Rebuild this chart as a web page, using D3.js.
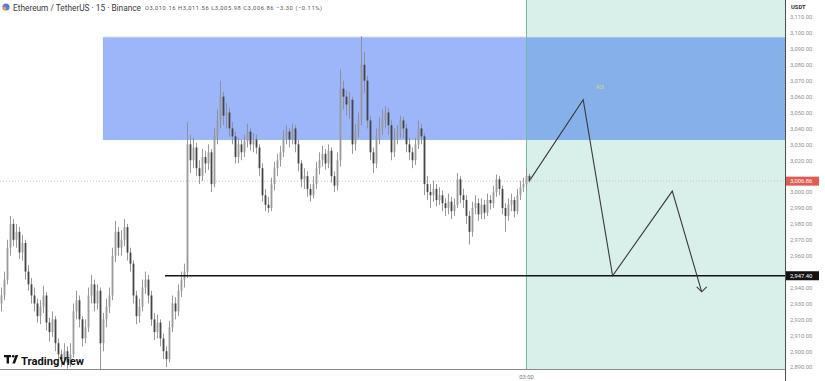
<!DOCTYPE html>
<html>
<head>
<meta charset="utf-8">
<script src="https://cdn.jsdelivr.net/npm/d3@7"></script>
<style>
  html, body { margin: 0; padding: 0; background: #fff; }
  svg { display: block; font-family: Roboto, "Noto Sans", sans-serif; }
</style>
</head>
<body>
<svg id="chart" width="825" height="381"></svg>
<script>
// ETH/USDT 15m candles (open = previous close)
var firstOpen = 2930;
var closes = [
  2935, 2945, 2965, 2980, 2970, 2975, 2962, 2968, 2950, 2942,
  2935, 2930, 2922, 2928, 2935, 2918, 2912, 2920, 2905, 2898,
  2895, 2900, 2893, 2898, 2925, 2932, 2920, 2908, 2915, 2935,
  2942, 2930, 2938, 2905, 2920, 2928, 2935, 2960, 2975, 2965,
  2970, 2978, 2962, 2955, 2935, 2922, 2928, 2940, 2945, 2935,
  2920, 2912, 2918, 2908, 2900, 2895, 2915, 2930, 2925, 2938,
  2945, 2950, 3030, 3020, 3028, 3015, 3010, 3022, 3018, 3025,
  3005, 3035, 3045, 3060, 3048, 3050, 3040, 3035, 3022, 3030,
  3025, 3032, 3038, 3030, 3033, 3028, 3015, 2998, 2992, 2990,
  3005, 3015, 3020, 3025, 3035, 3038, 3033, 3040, 3030, 3018,
  3008, 3010, 3002, 2998, 3005, 3015, 3020, 3024, 3018, 3026,
  3010, 3004, 3020, 3065, 3060, 3055, 3058, 3030, 3038, 3045,
  3080, 3070, 3045, 3025, 3018, 3035, 3040, 3045, 3050, 3042,
  3025, 3035, 3038, 3045, 3040, 3030, 3025, 3020, 3030, 3040,
  3035, 3005, 3000, 2998, 3002, 2995, 2998, 2993, 2990, 2994,
  2988, 2992, 3008, 2998, 2995, 2985, 2975, 2990, 2993, 2986,
  2992, 2987, 2995, 2993, 3000, 3008, 3002, 2990, 2985, 2992,
  2995, 2988, 2998, 3003, 3005, 3010.16, 3006.86
];
var highs = [
  2940, 2950, 2970, 2985, 2983, 2980, 2978, 2973, 2970, 2954,
  2946, 2940, 2933, 2932, 2941, 2937, 2921, 2925, 2922, 2908,
  2901, 2905, 2903, 2905, 2930, 2938, 2935, 2922, 2920, 2940,
  2948, 2945, 2942, 2940, 2924, 2933, 2940, 2965, 2982, 2978,
  2976, 2983, 2980, 2965, 2957, 2938, 2933, 2945, 2950, 2948,
  2938, 2924, 2923, 2920, 2911, 2903, 2919, 2935, 2934, 2942,
  2950, 2955, 3044, 3036, 3034, 3031, 3020, 3027, 3026, 3030,
  3027, 3040, 3052, 3070, 3063, 3056, 3053, 3044, 3038, 3034,
  3033, 3036, 3043, 3040, 3037, 3036, 3030, 3018, 3002, 2997,
  3009, 3019, 3024, 3029, 3039, 3042, 3040, 3043, 3042, 3033,
  3020, 3015, 3013, 3005, 3010, 3019, 3025, 3029, 3027, 3030,
  3028, 3013, 3025, 3077, 3070, 3064, 3063, 3060, 3043, 3050,
  3098, 3088, 3073, 3048, 3028, 3040, 3047, 3052, 3054, 3053,
  3045, 3040, 3042, 3048, 3047, 3043, 3034, 3028, 3034, 3045,
  3043, 3037, 3010, 3005, 3007, 3005, 3003, 3001, 2996, 2999,
  2997, 2996, 3012, 3010, 3002, 2998, 2988, 2994, 2998, 2996,
  2996, 2995, 2999, 2998, 3004, 3011, 3010, 3004, 2993, 2996,
  2999, 2997, 3002, 3007, 3009, 3015, 3011.56
];
var lows = [
  2925, 2932, 2942, 2960, 2966, 2965, 2958, 2957, 2945, 2938,
  2930, 2925, 2918, 2917, 2924, 2913, 2906, 2909, 2900, 2893,
  2890, 2891, 2889, 2890, 2896, 2920, 2915, 2903, 2905, 2912,
  2930, 2925, 2926, 2888, 2900, 2915, 2924, 2932, 2956, 2960,
  2960, 2966, 2957, 2950, 2930, 2917, 2918, 2925, 2936, 2930,
  2916, 2907, 2908, 2903, 2895, 2890, 2893, 2912, 2920, 2922,
  2934, 2940, 2946, 3012, 3015, 3010, 3005, 3007, 3012, 3014,
  3000, 3003, 3030, 3040, 3042, 3040, 3035, 3030, 3018, 3018,
  3020, 3022, 3028, 3026, 3025, 3024, 3010, 2994, 2988, 2987,
  2988, 3001, 3010, 3016, 3022, 3030, 3028, 3030, 3025, 3013,
  3003, 3002, 2997, 2994, 2996, 3002, 3011, 3016, 3014, 3015,
  3006, 3000, 3001, 3016, 3052, 3048, 3046, 3024, 3026, 3034,
  3042, 3062, 3040, 3020, 3012, 3015, 3030, 3036, 3040, 3036,
  3020, 3022, 3030, 3034, 3034, 3025, 3020, 3015, 3017, 3027,
  3030, 2998, 2995, 2990, 2994, 2991, 2992, 2988, 2985, 2986,
  2983, 2985, 2990, 2993, 2990, 2980, 2967, 2972, 2986, 2982,
  2983, 2983, 2985, 2989, 2990, 2997, 2998, 2986, 2975, 2982,
  2988, 2984, 2986, 2995, 3000, 3001, 3005.98
];

// price axis ticks and level tags
var priceTicks = d3.range(2890, 3111, 10);
var lastPrice = 3006.86;
var supportLevel = 2947.40;
var timeLabel = { at: 175, text: "03:00" };

// drawings (index = candle slot, p = price)
var supplyZone = { from: 33.8, top: 3097.4, bottom: 3032.7 };
var forecastZoneFrom = 175;
var supportFrom = 54.5;
var projection = [
  { i: 176.3, p: 3008 },
  { i: 193.9, p: 3058 },
  { i: 203.7, p: 2947.4 },
  { i: 223.6, p: 3000.6 },
  { i: 233.4, p: 2937.3 }
];
var zoneLabel = { i: 199.5, p: 3064.5, text: "ROI" };

var headerTitle = "Ethereum / TetherUS \u00b7 15 \u00b7 Binance";
var headerOHLC = "O3,010.16 H3,011.56 L3,005.98 C3,006.86 \u22123.30 (\u22120.11%)";

var svg = d3.select("#chart");
var plotRight = 785, plotBottom = 369;
var maxSlot = 261.17;

var x = d3.scaleLinear().domain([-0.5, maxSlot]).range([0, plotRight]);
var y = d3.scaleLinear().domain([2888.8, 3120.7]).range([plotBottom, 0]);

var candles = closes.map(function (c, i) {
  return { i: i, o: i === 0 ? firstOpen : closes[i - 1], h: highs[i], l: lows[i], c: c };
});

// zones, drawn first
var zones = svg.append("g").attr("class", "zones");
zones.append("rect")
  .attr("x", x(forecastZoneFrom)).attr("y", 0)
  .attr("width", plotRight - x(forecastZoneFrom)).attr("height", plotBottom)
  .attr("fill", "#d9efea");
zones.append("rect")
  .attr("x", x(supplyZone.from)).attr("y", y(supplyZone.top))
  .attr("width", x(forecastZoneFrom) - x(supplyZone.from))
  .attr("height", y(supplyZone.bottom) - y(supplyZone.top))
  .attr("fill", "#9db6fa");
zones.append("rect")
  .attr("x", x(forecastZoneFrom)).attr("y", y(supplyZone.top))
  .attr("width", plotRight - x(forecastZoneFrom))
  .attr("height", y(supplyZone.bottom) - y(supplyZone.top))
  .attr("fill", "#86b0ea");
zones.append("line")
  .attr("x1", x(supplyZone.from)).attr("x2", plotRight)
  .attr("y1", y(supplyZone.top)).attr("y2", y(supplyZone.top))
  .attr("stroke", "#c9d6fb").attr("stroke-width", 0.8);
zones.append("line")
  .attr("x1", x(forecastZoneFrom)).attr("x2", x(forecastZoneFrom))
  .attr("y1", 0).attr("y2", plotBottom)
  .attr("stroke", "#72b8aa").attr("stroke-width", 1);

// last price dotted line
svg.append("line")
  .attr("x1", 0).attr("x2", plotRight)
  .attr("y1", y(lastPrice)).attr("y2", y(lastPrice))
  .attr("stroke", "#d9a8a4").attr("stroke-width", 0.8)
  .attr("stroke-dasharray", "1,2");

// candles
var cg = svg.append("g").attr("class", "candles");
cg.selectAll("line.wick").data(candles).enter().append("line")
  .attr("class", "wick")
  .attr("x1", function (d) { return x(d.i); })
  .attr("x2", function (d) { return x(d.i); })
  .attr("y1", function (d) { return y(d.h); })
  .attr("y2", function (d) { return y(d.l); })
  .attr("stroke", "#8c8c8c").attr("stroke-width", 0.9);
cg.selectAll("rect.body").data(candles).enter().append("rect")
  .attr("class", "body")
  .attr("x", function (d) { return x(d.i) - 0.9; })
  .attr("width", 1.8)
  .attr("y", function (d) { return y(Math.max(d.o, d.c)); })
  .attr("height", function (d) { return Math.max(0.8, Math.abs(y(d.o) - y(d.c))); })
  .attr("fill", function (d) { return d.c >= d.o ? "#9a9a9a" : "#454545"; });

// support line
svg.append("line")
  .attr("x1", x(supportFrom)).attr("x2", plotRight)
  .attr("y1", y(supportLevel)).attr("y2", y(supportLevel))
  .attr("stroke", "#141414").attr("stroke-width", 1.4);

// projected path
var line = d3.line().x(function (d) { return x(d.i); }).y(function (d) { return y(d.p); });
svg.append("path").datum(projection)
  .attr("d", line)
  .attr("fill", "none").attr("stroke", "#3a3a3a").attr("stroke-width", 1.1);

// arrow head at the end of the path
var tip = projection[projection.length - 1];
var tx = x(tip.i), ty = y(tip.p);
svg.append("path")
  .attr("d", "M" + (tx - 5) + "," + (ty - 5) + "L" + tx + "," + ty + "L" + (tx + 5) + "," + (ty - 5))
  .attr("fill", "none").attr("stroke", "#3a3a3a").attr("stroke-width", 1.1);

svg.append("text")
  .attr("x", x(zoneLabel.i)).attr("y", y(zoneLabel.p))
  .attr("text-anchor", "middle")
  .attr("font-size", 5).attr("fill", "#d7d77a")
  .text(zoneLabel.text);

// axes frame
svg.append("line")
  .attr("x1", 0).attr("x2", plotRight)
  .attr("y1", plotBottom + 0.5).attr("y2", plotBottom + 0.5)
  .attr("stroke", "#8a8a8a").attr("stroke-width", 1);
svg.append("line")
  .attr("x1", plotRight + 0.5).attr("x2", plotRight + 0.5)
  .attr("y1", 0).attr("y2", 381)
  .attr("stroke", "#4d4d4d").attr("stroke-width", 1);

// price axis (labels under the price tags are left out)
var fmt = d3.format(",.2f");
var axisTicks = priceTicks.filter(function (v) {
  return Math.abs(y(v) - y(lastPrice)) > 7 && Math.abs(y(v) - y(supportLevel)) > 7;
});
var yAxis = svg.append("g")
  .attr("transform", "translate(" + (plotRight + 1) + ",0)")
  .call(d3.axisRight(y).tickValues(axisTicks).tickSize(0).tickPadding(4).tickFormat(fmt));
yAxis.select(".domain").remove();
yAxis.selectAll("text")
  .attr("font-size", 5.8).attr("fill", "#8f8f8f")
  .attr("font-family", "Roboto, sans-serif");

svg.append("text")
  .attr("x", plotRight + 6).attr("y", 9)
  .attr("font-size", 5.8).attr("font-weight", "bold").attr("fill", "#333")
  .text("USDT");

function priceTag(value, color) {
  var g = svg.append("g");
  g.append("rect")
    .attr("x", plotRight + 1).attr("y", y(value) - 4.5)
    .attr("width", 33).attr("height", 9)
    .attr("fill", color);
  g.append("text")
    .attr("x", plotRight + 5).attr("y", y(value) + 2)
    .attr("font-size", 5.8).attr("fill", "#fff")
    .text(fmt(value));
}
priceTag(lastPrice, "#e25a52");
priceTag(supportLevel, "#131313");

// time axis label
svg.append("text")
  .attr("x", x(timeLabel.at)).attr("y", 379)
  .attr("text-anchor", "middle")
  .attr("font-size", 5.8).attr("fill", "#777")
  .text(timeLabel.text);

// header
svg.append("circle").attr("cx", 6).attr("cy", 7).attr("r", 3.6).attr("fill", "#5b7be0");
svg.append("circle").attr("cx", 4.4).attr("cy", 8.6).attr("r", 1.8).attr("fill", "#f0a030");
svg.append("text")
  .attr("x", 13).attr("y", 10.5)
  .attr("font-size", 9.6).attr("fill", "#3a3a3a")
  .attr("textLength", 128).attr("lengthAdjust", "spacingAndGlyphs")
  .text(headerTitle);
svg.append("text")
  .attr("x", 145).attr("y", 10)
  .attr("font-size", 5.8).attr("fill", "#555")
  .attr("textLength", 177).attr("lengthAdjust", "spacing")
  .text(headerOHLC);

// TradingView watermark
var logo = svg.append("g").attr("transform", "translate(4,355)");
logo.append("path").attr("d", "M0,0H7V2.2H5V8.5H2.6V2.2H0Z").attr("fill", "#111");
logo.append("circle").attr("cx", 9.2).attr("cy", 1.3).attr("r", 1.3).attr("fill", "#111");
logo.append("path").attr("d", "M11.5,0H14.2L11,8.5H8.3Z").attr("fill", "#111");
svg.append("text")
  .attr("x", 21).attr("y", 364.5)
  .attr("font-size", 11.2).attr("font-weight", "bold").attr("fill", "#131313")
  .attr("textLength", 63).attr("lengthAdjust", "spacingAndGlyphs")
  .text("TradingView");
</script>
</body>
</html>
